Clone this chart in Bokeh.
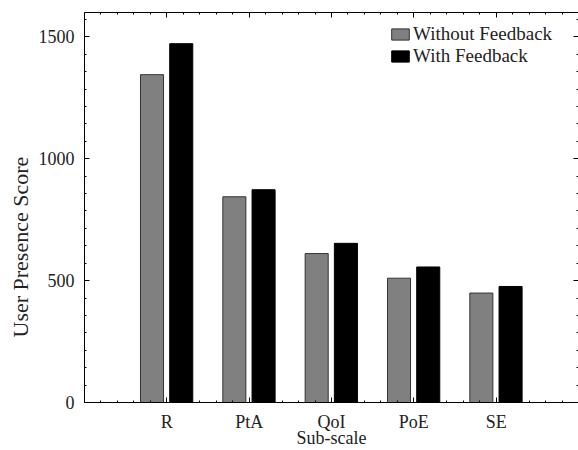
from bokeh.plotting import figure
from bokeh.models import (Range1d, LinearAxis, FixedTicker, SingleIntervalTicker,
                          Legend, LegendItem, Title, ColumnDataSource)
from bokeh.transform import dodge
from bokeh.embed import file_html
from bokeh.resources import INLINE

categories = ["R", "PtA", "QoI", "PoE", "SE"]
positions = [1, 2, 3, 4, 5]
without_feedback = [1345, 844, 611, 510, 449]
with_feedback = [1472, 873, 653, 556, 476]

FONT = "Liberation Serif"
TXT = "#222222"

src = ColumnDataSource(dict(pos=positions, wo=without_feedback, w=with_feedback))

p = figure(width=578, height=450, x_range=Range1d(0, 6), y_range=Range1d(0, 1600),
           output_backend="svg", toolbar_location=None, title_location=None,
           x_axis_location=None, y_axis_location=None,
           min_border_left=84, min_border_right=0, min_border_top=12, min_border_bottom=48)
p.xgrid.visible = False
p.ygrid.visible = False
p.outline_line_color = None
p.background_fill_color = "white"
p.border_fill_color = "white"

r1 = p.vbar(x=dodge("pos", -0.18, range=p.x_range), top="wo", width=0.28, source=src,
            fill_color="#808080", line_color="#333333", line_width=1)
r2 = p.vbar(x=dodge("pos", 0.175, range=p.x_range), top="w", width=0.28, source=src,
            fill_color="black", line_color="black", line_width=1)

minor_x = [i * 0.2 for i in range(31)]
x_ticker = FixedTicker(ticks=positions, minor_ticks=minor_x)
y_ticker = SingleIntervalTicker(interval=500, num_minor_ticks=7)


def style(ax, labels=True):
    ax.axis_line_color = "black"
    ax.axis_line_width = 1
    ax.major_tick_in = 5
    ax.major_tick_out = 0
    ax.minor_tick_in = 2
    ax.minor_tick_out = 0
    ax.major_tick_line_color = "black"
    ax.minor_tick_line_color = "black"
    if labels:
        ax.major_label_text_font = FONT
        ax.major_label_text_font_size = "18px"
        ax.major_label_text_color = TXT
    else:
        ax.major_label_text_font_size = "0px"
        ax.major_label_standoff = 0
        ax.major_label_text_color = None


xb = LinearAxis(ticker=x_ticker, axis_label="Sub-scale")
style(xb)
xb.major_label_overrides = {pos: c for pos, c in zip(positions, categories)}
xb.major_label_standoff = 9
xb.axis_label_text_font = FONT
xb.axis_label_text_font_size = "18px"
xb.axis_label_text_font_style = "normal"
xb.axis_label_text_color = TXT
xb.axis_label_standoff = -7
p.add_layout(xb, "below")

xt = LinearAxis(ticker=x_ticker)
style(xt, labels=False)
p.add_layout(xt, "above")

yl = LinearAxis(ticker=y_ticker)
style(yl)
yl.major_label_standoff = 10
p.add_layout(yl, "left")

yr = LinearAxis(ticker=y_ticker)
style(yr, labels=False)
p.add_layout(yr, "right")

ytitle = Title(text="User Presence Score", align="left", offset=65,
               text_font=FONT, text_font_size="22px", text_font_style="normal",
               text_color=TXT, standoff=5)
p.add_layout(ytitle, "left")

legend = Legend(items=[LegendItem(label="Without Feedback", renderers=[r1]),
                       LegendItem(label="With Feedback", renderers=[r2])],
                location=(305, 335), border_line_color=None, background_fill_alpha=0,
                padding=0, margin=0, spacing=0, glyph_width=22, glyph_height=14,
                label_height=22, label_standoff=2, label_text_font=FONT,
                label_text_font_size="19px", label_text_color=TXT)
p.add_layout(legend)

open("out.html", "w").write(file_html(p, INLINE))
